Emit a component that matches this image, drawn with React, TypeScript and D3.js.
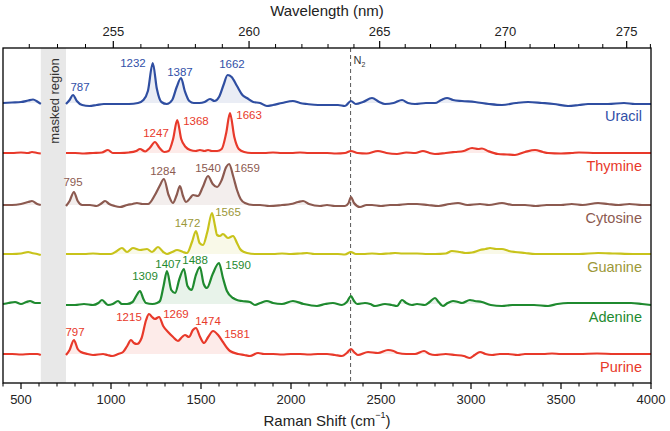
import React from "react";
import * as d3 from "d3";

type Pt = [number, number | null];

const seriesNames = ["Uracil", "Thymine", "Cytosine", "Guanine", "Adenine", "Purine"];
const seriesOffsets = [251, 201, 149, 100, 50, 0];
const lineColors = ["#2f4ea1", "#e8392a", "#8c5a50", "#c8c31b", "#1f8a2f", "#e8392a"];
const labelColors = ["#3150a8", "#e8392a", "#8c5a50", "#9c9838", "#1f8a2f", "#e8392a"];

const uracil: Pt[] = [[400,0],[450,0.5],[500,1],[540,2.5],[567,3.5],[590,1.5],[610,-1],[680,null],[750,-1],[770,3],[789,8],[810,2],[840,-2],[880,-3],[920,-2],[960,-1],[1000,-1],[1050,-1],[1100,-1],[1150,0],[1180,3],[1205,12],[1232,40],[1255,14],[1280,1],[1310,-1],[1340,3],[1365,16],[1389,25],[1410,12],[1435,2],[1460,0],[1490,0],[1520,1],[1550,4],[1575,2],[1600,6],[1625,18],[1648,28],[1670,26],[1700,17],[1730,8],[1755,5],[1790,1],[1828,0],[1866,-3],[1900,-2],[1950,0],[2011,2],[2050,0],[2089,-1],[2150,-2],[2233,-2],[2261,-2],[2300,-3],[2333,2],[2360,-1],[2400,1],[2450,5],[2490,1],[2522,-1],[2570,0],[2617,3],[2650,0],[2689,-1],[2750,0],[2800,0],[2835,3],[2867,5],[2900,3],[2950,2],[3022,1],[3100,-1],[3172,-2],[3250,0],[3317,1],[3394,0],[3460,-1],[3539,-3],[3600,-2],[3650,-1],[3761,-1],[3850,0],[3911,-1],[4000,-1]];

const thymine: Pt[] = [[400,0],[450,0],[500,0.5],[540,0],[561,1],[590,0],[610,-0.5],[680,null],[750,0],[800,0],[850,-0.5],[900,0],[950,0.5],[983,3],[1010,0],[1050,0],[1100,0.5],[1140,2],[1161,4],[1190,1.5],[1215,5],[1244,11],[1270,5],[1295,1],[1320,2],[1345,14],[1368,33],[1390,14],[1415,6],[1440,3],[1470,2],[1494,3],[1520,2],[1539,3],[1560,2],[1590,2],[1615,4],[1640,20],[1661,40],[1685,16],[1710,4],[1740,1],[1780,0],[1850,0],[1900,0.5],[1950,0],[2000,0],[2050,0.5],[2100,0],[2150,0],[2200,0],[2250,-0.5],[2300,0],[2333,2],[2370,0],[2420,-0.5],[2483,2],[2530,0],[2589,-1],[2640,0.5],[2690,0],[2733,2],[2770,0],[2800,-1],[2860,0],[2911,1],[2960,2],[3006,5],[3040,4],[3061,4.5],[3094,2],[3150,-1],[3200,-1.5],[3244,-2],[3300,1],[3356,3],[3400,1],[3428,0],[3500,-0.5],[3560,0],[3600,0.5],[3700,0],[3800,0],[3900,0],[4000,0]];

const cytosine: Pt[] = [[400,0],[450,0],[500,1],[540,3],[561,4],[590,1],[610,0],[680,null],[750,-1],[770,4],[794,13],[815,4],[840,0],[883,0],[920,-1],[950,2],[967,4],[990,1],[1020,-1],[1050,-2],[1090,0],[1120,1],[1144,2],[1175,1],[1206,1],[1244,10],[1270,19],[1294,26],[1320,10],[1344,2],[1365,10],[1383,19],[1400,9],[1417,3],[1440,7],[1456,10],[1483,9],[1510,18],[1539,29],[1565,21],[1589,18],[1615,25],[1640,38],[1656,41],[1680,28],[1700,15],[1720,6],[1744,2],[1790,0],[1828,0],[1880,-1],[1950,0],[2000,1],[2040,3],[2067,4],[2100,1],[2161,-1],[2200,0],[2244,-1],[2300,-1],[2320,2],[2333,8],[2350,2],[2383,-2],[2420,0],[2450,0],[2500,-1],[2550,0],[2589,0],[2650,1],[2700,1],[2760,0],[2820,-1],[2880,1],[2928,2],[2980,0],[3050,1],[3100,0],[3172,2],[3230,0],[3300,0],[3360,-1],[3420,0],[3500,0],[3560,1],[3620,0],[3706,2],[3760,1],[3820,0],[3880,1],[3950,0],[4000,0]];

const guanine: Pt[] = [[400,0],[450,0],[500,0.5],[540,2],[560,1],[590,0],[610,-1],[680,null],[750,0],[800,0],[850,0],[900,0.5],[950,0],[1000,0],[1033,3],[1061,6],[1089,2],[1122,6],[1161,4],[1200,5],[1228,2],[1261,7],[1290,2],[1311,0],[1340,2],[1367,4],[1400,2],[1422,1],[1450,12],[1472,23],[1492,11],[1511,9],[1535,22],[1561,41],[1578,28],[1589,19],[1605,18],[1622,20],[1650,16],[1678,18],[1700,11],[1717,5],[1740,2],[1756,1],[1800,0],[1900,0],[1950,0.5],[2000,0],[2050,0.5],[2089,1],[2130,0],[2200,0],[2260,0],[2300,-0.5],[2333,2],[2360,0],[2400,0],[2450,0.5],[2500,0],[2540,0.5],[2578,1],[2620,0.5],[2700,0.5],[2760,0],[2800,0],[2860,0.5],[2894,3],[2939,2],[2970,1],[3006,1.5],[3050,4],[3080,5],[3106,6],[3140,5],[3172,5],[3210,3],[3244,2],[3300,1],[3356,0],[3420,0],[3500,0],[3600,0],[3706,1],[3800,0.5],[3900,0],[4000,0]];

const adenine: Pt[] = [[400,0],[430,1],[467,2],[500,0],[530,2],[550,3],[580,1],[610,1],[680,null],[750,-1],[800,-1],[850,0],[900,-1],[930,1],[950,4],[983,-1],[1010,0],[1039,3],[1060,0],[1089,0],[1120,2],[1140,8],[1161,13],[1180,5],[1194,1],[1230,0],[1256,1],[1272,3],[1292,18],[1311,33],[1335,14],[1356,11],[1380,25],[1405,35],[1425,18],[1448,14],[1470,28],[1494,37],[1515,20],[1533,16],[1565,30],[1600,41],[1622,26],[1644,13],[1678,6],[1700,4],[1728,3],[1772,2],[1800,-1],[1830,1],[1866,3],[1900,1],[1950,0],[2011,3],[2070,0],[2144,-2],[2190,0],[2233,1],[2283,-1],[2310,2],[2333,8],[2350,3],[2367,0],[2411,1],[2440,0],[2467,-2],[2522,0],[2560,-1],[2589,-2],[2617,4],[2640,1],[2672,-1],[2700,0],[2744,-1],[2770,2],[2800,6],[2820,2],[2844,-2],[2870,1],[2900,3],[2930,2],[2950,1],[2994,4],[3020,3],[3061,2],[3110,-1],[3172,-2],[3230,-1],[3283,-1],[3350,-1],[3428,-2],[3480,0],[3539,1],[3600,1],[3706,1],[3800,1],[3889,1],[3950,0],[4000,-1]];

const purine: Pt[] = [[400,0],[450,0],[500,-0.5],[550,0],[590,0],[610,-1],[680,null],[750,-1],[770,4],[794,14],[815,5],[833,2],[870,0],[900,-1],[956,0],[980,-1],[1006,-2],[1040,0],[1067,2],[1090,8],[1111,14],[1127,11],[1144,10],[1170,16],[1195,34],[1211,40],[1228,37],[1244,35],[1267,37],[1290,28],[1317,22],[1345,17],[1372,13],[1395,17],[1411,19],[1433,17],[1455,24],[1472,26],[1495,17],[1517,11],[1540,17],[1567,23],[1595,19],[1622,12],[1645,6],[1661,3],[1706,0],[1740,-1],[1772,-2],[1817,1],[1850,0],[1900,0],[1950,-0.5],[2000,0],[2050,0],[2100,-0.5],[2150,0],[2200,0],[2244,-1],[2283,-2],[2310,1],[2333,5],[2350,2],[2372,-1],[2428,2],[2483,1],[2539,4],[2570,3],[2594,1],[2640,0],[2689,0],[2739,3],[2770,0],[2800,-1],[2860,0],[2911,-1],[2960,-2],[2994,-4],[3020,-1],[3050,2],[3080,0],[3117,-1],[3160,0],[3206,0],[3260,-1],[3300,0],[3400,0],[3450,0.5],[3500,0],[3600,0],[3700,0.5],[3800,0],[3900,0],[4000,0]];

const spectra = [uracil, thymine, cytosine, guanine, adenine, purine];

// peak annotations: [text, shift position, height above baseline]
const uracilPeaks: [string, number, number][] = [["787", 828, 16], ["1232", 1122, 40], ["1387", 1383, 31], ["1662", 1672, 39]];
const thyminePeaks: [string, number, number][] = [["1247", 1250, 20], ["1368", 1472, 32], ["1663", 1767, 38]];
const cytosinePeaks: [string, number, number][] = [["795", 789, 23], ["1284", 1289, 34], ["1540", 1539, 37], ["1659", 1756, 37]];
const guaninePeaks: [string, number, number][] = [["1472", 1425, 31], ["1565", 1650, 42]];
const adeninePeaks: [string, number, number][] = [["1309", 1189, 28], ["1407", 1317, 40], ["1488", 1467, 44], ["1590", 1706, 39]];
const purinePeaks: [string, number, number][] = [["797", 800, 22], ["1215", 1100, 37], ["1269", 1361, 40], ["1474", 1539, 33], ["1581", 1700, 20]];
const peakSets = [uracilPeaks, thyminePeaks, cytosinePeaks, guaninePeaks, adeninePeaks, purinePeaks];

const shiftTicks = [500, 1000, 1500, 2000, 2500, 3000, 3500, 4000];
const wavelengthTicks = [255, 260, 265, 270, 275];
const maskedRegion = [610, 750];
const n2Shift = 2331;
const laserNm = 248.58;

const W = 670, H = 431;
const left = 3, right = 651, top = 48, bottom = 383;
const font = "'Liberation Sans', Arial, sans-serif";

export default function App() {
  const x = d3.scaleLinear().domain([400, 4000]).range([left, right]);
  const y = d3.scaleLinear().domain([-29, 306]).range([bottom, top]);
  const wlToShift = (nm: number) => 1e7 / laserNm - 1e7 / nm;

  const minorShift = d3.range(400, 4001, 100).filter((v) => v % 500 !== 0);
  const minorWl = d3.range(252, 277, 1).filter((v) => v % 5 !== 0 && x(wlToShift(v)) <= right + 0.5);

  return (
    <svg width={W} height={H} style={{ position: "absolute", left: 0, top: 0, background: "#fff" }} fontFamily={font}>
      <rect x={x(maskedRegion[0])} y={top} width={x(maskedRegion[1]) - x(maskedRegion[0])} height={bottom - top} fill="#e8e8e8" />
      <text transform={`translate(${(x(maskedRegion[0]) + x(maskedRegion[1])) / 2 + 1},${101}) rotate(-90)`} textAnchor="middle" dominantBaseline="central" fontSize={13} fill="#333">masked region</text>

      <line x1={x(n2Shift)} x2={x(n2Shift)} y1={top} y2={bottom} stroke="#444" strokeWidth={0.9} strokeDasharray="4,3" />
      <text x={x(n2Shift) + 3} y={64} fontSize={11} fill="#333">N<tspan fontSize={7} dy={3}>2</tspan></text>

      {spectra.map((data, i) => {
        const off = seriesOffsets[i];
        const line = d3.line<Pt>().defined((d) => d[1] !== null).x((d) => x(d[0])).y((d) => y((d[1] as number) + off)).curve(d3.curveMonotoneX);
        const area = d3.area<Pt>().defined((d) => d[1] !== null).x((d) => x(d[0])).y0(y(off)).y1((d) => y(Math.max(0, d[1] as number) + off)).curve(d3.curveMonotoneX);
        return (
          <g key={seriesNames[i]}>
            <path d={area(data) || ""} fill={lineColors[i]} fillOpacity={0.1} />
            <path d={line(data) || ""} fill="none" stroke={lineColors[i]} strokeWidth={2.2} strokeLinejoin="round" />
            {peakSets[i].map(([t, px, py]) => (
              <text key={t + px} x={x(px)} y={y(py + off)} textAnchor="middle" dominantBaseline="central" fontSize={11.5} fill={labelColors[i]}>{t}</text>
            ))}
            <text x={642} y={y(off - 13)} textAnchor="end" dominantBaseline="central" fontSize={14.5} fill={labelColors[i]}>{seriesNames[i]}</text>
          </g>
        );
      })}

      <rect x={left} y={top} width={right - left} height={bottom - top} fill="none" stroke="#000" strokeWidth={1.3} />

      {shiftTicks.map((t) => (
        <g key={"b" + t}>
          <line x1={x(t)} x2={x(t)} y1={bottom} y2={bottom + 6} stroke="#000" strokeWidth={1.2} />
          <text x={x(t)} y={bottom + 16.5} textAnchor="middle" dominantBaseline="central" fontSize={13} fill="#222">{t}</text>
        </g>
      ))}
      {minorShift.map((t) => (
        <line key={"bm" + t} x1={x(t)} x2={x(t)} y1={bottom} y2={bottom + 3.5} stroke="#000" strokeWidth={1} />
      ))}
      <text x={(left + right) / 2} y={420} textAnchor="middle" dominantBaseline="central" fontSize={15} fill="#222">Raman Shift (cm<tspan fontSize={9} dy={-5}>−1</tspan><tspan dy={5}>)</tspan></text>

      {wavelengthTicks.map((t) => (
        <g key={"t" + t}>
          <line x1={x(wlToShift(t))} x2={x(wlToShift(t))} y1={top} y2={top - 7} stroke="#000" strokeWidth={1.2} />
          <text x={x(wlToShift(t))} y={top - 17} textAnchor="middle" dominantBaseline="central" fontSize={13} fill="#222">{t}</text>
        </g>
      ))}
      {minorWl.map((t) => (
        <line key={"tm" + t} x1={x(wlToShift(t))} x2={x(wlToShift(t))} y1={top} y2={top - 4} stroke="#000" strokeWidth={1} />
      ))}
      <text x={(left + right) / 2} y={10} textAnchor="middle" dominantBaseline="central" fontSize={15} fill="#222">Wavelength (nm)</text>
    </svg>
  );
}
